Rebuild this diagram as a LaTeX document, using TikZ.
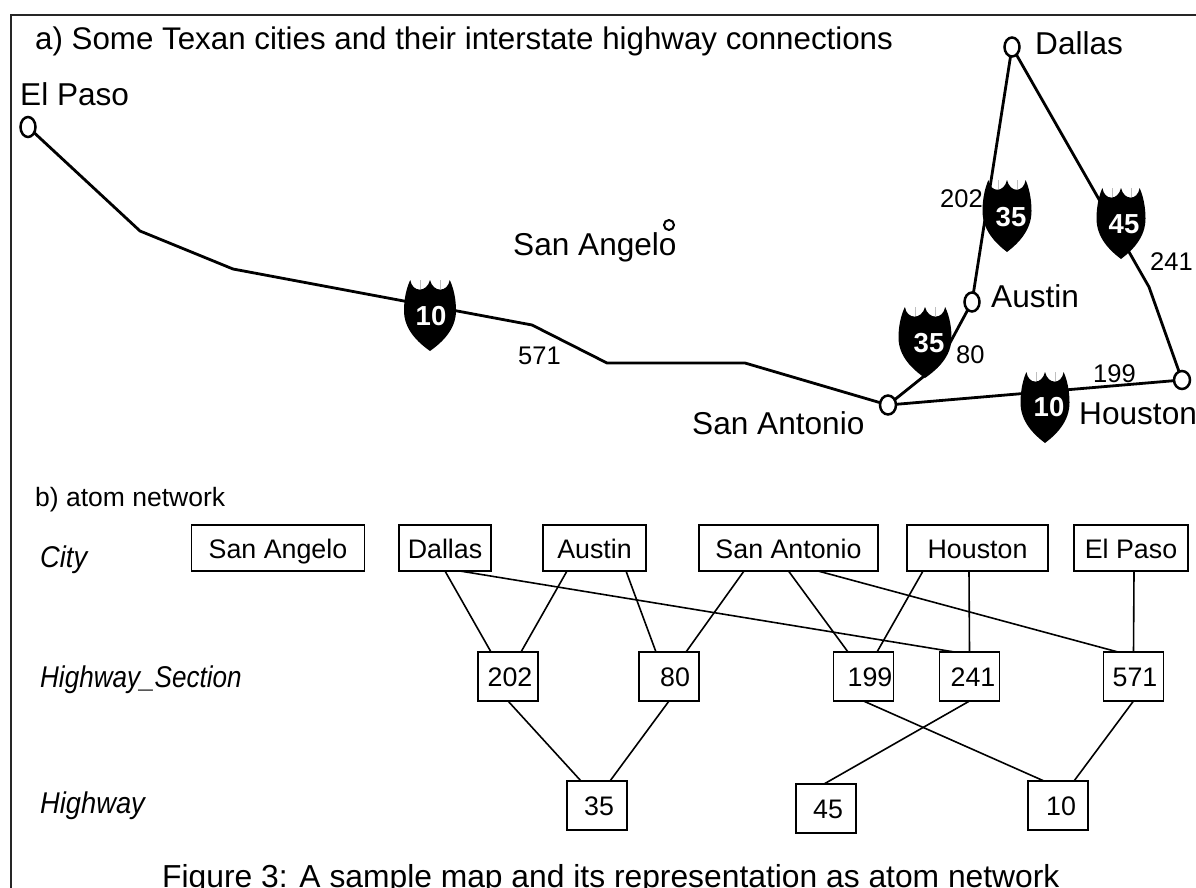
\documentclass[tikz,border=0pt]{standalone}
\usepackage{fontspec}
\setmainfont{Liberation Sans}
\usetikzlibrary{shapes.geometric}
\newcommand{\fsz}[1]{\fontsize{#1}{#1}\selectfont}
\tikzset{
  frameline/.style={line width=2pt,black!85},
  road/.style={line width=2.8pt,black,line join=round},
  city/.style={ellipse,draw=black,line width=2.5pt,fill=white,inner sep=0pt,outer sep=0pt},
  maplabel/.style={anchor=base west,inner sep=0pt,font=\fsz{31.6}},
  numlabel/.style={anchor=base west,inner sep=0pt,font=\fsz{25.5}},
  typelabel/.style={anchor=base west,inner sep=0pt,font=\fsz{30}\itshape,xscale=0.91},
  atom/.style={draw=black,line width=1.8pt,inner sep=0pt,outer sep=0pt,font=\fsz{26.8},text height=20pt,text depth=0pt,align=center,fill=white},
  link/.style={line width=1.6pt,black},
  shieldnum/.style={white,font=\fsz{27.5}\bfseries,inner sep=0pt}
}
% name, tip x, top y, width, height, number, number x, number y
\newcommand{\shield}[8]{%
  \begin{scope}[shift={(#2,#3)},xscale=#4/50,yscale=#5/72]
    \fill[black] (-19,0) .. controls (-17,13) and (-3,13) .. (0,0)
      .. controls (3,13) and (17,13) .. (19,0)
      .. controls (23,9) and (25,20) .. (25,31)
      .. controls (25,50) and (12,63) .. (0,72)
      .. controls (-12,63) and (-25,50) .. (-25,31)
      .. controls (-25,20) and (-23,9) .. (-19,0) -- cycle;
    \draw[black!25,line width=0.6pt] (-9,0) -- (-9,9) (10,0) -- (10,9);
  \end{scope}
  \node[shieldnum] (#1) at (#7,#8) {#6};
}
\begin{document}
\begin{tikzpicture}[x=1pt,y=-1pt]
\useasboundingbox (0,0) rectangle (1196,888);
\draw[frameline] (11,888) -- (11,15) -- (1196,15);

% map cities
\node[city,minimum width=15pt,minimum height=20pt] (mElPaso) at (28,127) {};
\node[city,minimum width=15pt,minimum height=19pt] (mDallas) at (1012,47) {};
\node[city,minimum width=15pt,minimum height=19pt] (mAustin) at (972,302) {};
\node[city,minimum width=16pt,minimum height=19pt] (mSanAntonio) at (888,405) {};
\node[city,minimum width=16pt,minimum height=18pt] (mHouston) at (1182,380) {};
\node[city,line width=2pt,minimum width=10pt,minimum height=10pt] (mSanAngelo) at (669,225) {};

% way points
\coordinate (w1) at (140,231);
\coordinate (w2) at (233,269);
\coordinate (w3) at (532,325);
\coordinate (w4) at (607,363);
\coordinate (w5) at (745,363);
\coordinate (w6) at (1149,287);
\coordinate (w7) at (938,365);

% roads
\draw[road] (mElPaso) -- (w1) -- (w2) -- (w3) -- (w4) -- (w5) -- (mSanAntonio);
\draw[road] (mSanAntonio) -- (w7) -- (mAustin);
\draw[road] (mAustin) -- (mDallas);
\draw[road] (mDallas) -- (w6) -- (mHouston);
\draw[road] (mSanAntonio) -- (mHouston);

% shields
\shield{s10a}{430}{280}{52}{71}{10}{431}{316}
\shield{s35a}{1007}{180}{49}{72}{35}{1011}{217}
\shield{s45}{1121}{188}{49}{71}{45}{1124}{224}
\shield{s35b}{925}{307}{53}{71}{35}{929}{343}
\shield{s10b}{1045}{372}{49}{71}{10}{1049}{407}

% map labels
\node[maplabel,font=\fsz{31.3}] (title) at (35,50) {a) Some Texan cities and their interstate highway connections};
\node[maplabel] (lElPaso) at (20,105.5) {El Paso};
\node[maplabel] (lDallas) at (1035,55) {Dallas};
\node[maplabel] (lAustin) at (991,307) {Austin};
\node[maplabel] (lSanAngelo) at (513,255) {San Angelo};
\node[maplabel] (lSanAntonio) at (692,434) {San Antonio};
\node[maplabel] (lHouston) at (1079,424) {Houston};
\node[numlabel] (n571) at (518,364) {571};
\node[numlabel] (n202) at (940,207) {202};
\node[numlabel] (n241) at (1150,270) {241};
\node[numlabel] (n80) at (956,363) {80};
\node[numlabel] (n199) at (1093,382) {199};

% part b labels
\node[anchor=base west,inner sep=0pt,font=\fsz{26.5}] (btitle) at (35,506) {b) atom network};
\node[typelabel] (tCity) at (40,567) {City};
\node[typelabel,xscale=0.955] (tSection) at (40,687) {Highway\_Section};
\node[typelabel] (tHighway) at (40,813) {Highway};

% city atoms
\node[atom,minimum width=173pt,minimum height=46pt] (aSanAngelo) at (278,548) {San Angelo};
\node[atom,minimum width=92pt,minimum height=46pt] (aDallas) at (445,548) {Dallas};
\node[atom,minimum width=103pt,minimum height=46pt] (aAustin) at (594.5,548) {Austin};
\node[atom,minimum width=179pt,minimum height=46pt] (aSanAntonio) at (788.5,548) {San Antonio};
\node[atom,minimum width=141pt,minimum height=46pt] (aHouston) at (977.5,548) {Houston};
\node[atom,minimum width=114pt,minimum height=46pt] (aElPaso) at (1131,548) {El Paso};
% section atoms
\node[atom,minimum width=60pt,minimum height=49pt] (a202) at (508,676.5) {\hspace*{4pt}202};
\node[atom,minimum width=60pt,minimum height=49pt] (a80) at (669,676.5) {\hspace*{12pt}80};
\node[atom,minimum width=60pt,minimum height=49pt] (a199) at (863.5,676.5) {\hspace*{13pt}199};
\node[atom,minimum width=60pt,minimum height=49pt] (a241) at (969.5,676.5) {\hspace*{7pt}241};
\node[atom,minimum width=60pt,minimum height=49pt] (a571) at (1133.5,676.5) {\hspace*{3pt}571};
% highway atoms
\node[atom,minimum width=60pt,minimum height=49pt] (a35) at (597,805.5) {\hspace*{4pt}35};
\node[atom,minimum width=60pt,minimum height=49pt] (a45) at (826,808.5) {\hspace*{4pt}45};
\node[atom,minimum width=60pt,minimum height=49pt] (a10) at (1058,805.5) {\hspace*{6pt}10};

% links
\draw[link] (aDallas.south) -- ([xshift=-17pt]a202.north);
\draw[link] ([xshift=15pt]aDallas.south) -- ([xshift=-15pt]a241.north);
\draw[link] ([xshift=-27.5pt]aAustin.south) -- ([xshift=13pt]a202.north);
\draw[link] ([xshift=31.5pt]aAustin.south) -- ([xshift=-13pt]a80.north);
\draw[link] ([xshift=-44.5pt]aSanAntonio.south) -- ([xshift=17pt]a80.north);
\draw[link] (aSanAntonio.south) -- ([xshift=-15.5pt]a199.north);
\draw[link] ([xshift=29.5pt]aSanAntonio.south) -- ([xshift=-15.5pt]a571.north);
\draw[link] ([xshift=-54.5pt]aHouston.south) -- ([xshift=13.5pt]a199.north);
\draw[link] ([xshift=-8.5pt]aHouston.south) -- (a241.north);
\draw[link] ([xshift=3pt]aElPaso.south) -- (a571.north);
\draw[link] (a202.south) -- ([xshift=-16pt]a35.north);
\draw[link] (a80.south) -- ([xshift=13pt]a35.north);
\draw[link] (a199.south) -- ([xshift=-14pt]a10.north);
\draw[link] (a241.south) -- ([xshift=-2pt]a45.north);
\draw[link] (a571.south) -- ([xshift=16pt]a10.north);

% caption
\node[anchor=base west,inner sep=0pt,font=\fsz{31.8}] (caption) at (162,887) {Figure 3: A sample map and its representation as atom network};
\end{tikzpicture}
\end{document}
